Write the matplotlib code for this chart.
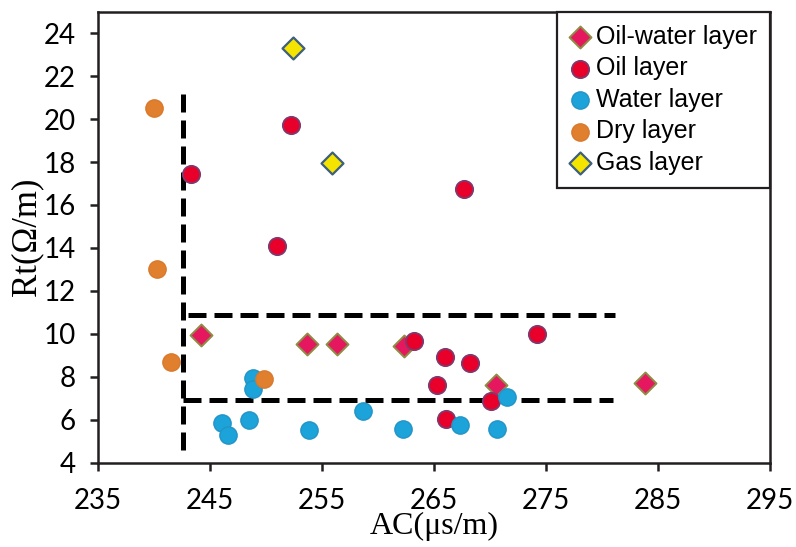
import numpy as np
import matplotlib
matplotlib.use("Agg")
import matplotlib.pyplot as plt

# AC (us/m) vs Rt (ohm/m) per layer type
OW_AC = [244.2, 253.7, 256.3, 262.3, 270.5, 283.8]
OW_RT = [9.93, 9.52, 9.52, 9.42, 7.60, 7.70]
OIL_AC = [243.3, 252.2, 251.0, 267.7, 263.2, 266.0, 268.2, 265.3, 274.2, 270.1, 266.1]
OIL_RT = [17.44, 19.74, 14.08, 16.76, 9.65, 8.91, 8.63, 7.60, 10.00, 6.89, 6.05]
WAT_AC = [248.8, 248.8, 246.1, 246.6, 248.5, 253.8, 258.7, 262.2, 267.3, 270.6, 271.5]
WAT_RT = [7.94, 7.45, 5.85, 5.27, 6.00, 5.54, 6.39, 5.59, 5.74, 5.59, 7.07]
DRY_AC = [240.0, 240.3, 241.5, 249.8]
DRY_RT = [20.50, 13.03, 8.68, 7.90]
GAS_AC = [252.4, 255.9]
GAS_RT = [23.30, 17.94]

# cut-off lines
CUT_AC = 242.6
CUT_AC_RT = (4.6, 21.3)
CUT_RT_HI, CUT_RT_LO = 10.87, 6.90
CUT_HI_AC = (243.0, 281.2)
CUT_LO_AC = (242.6, 281.0)

TICK_FONT = "Lato"
LAB_FONT = "Liberation Serif"

fig = plt.figure(figsize=(7.96, 5.47), dpi=100)
ax = fig.add_axes([0.1231, 0.1541, 0.8442, 0.8245])

dash = dict(color="black", lw=3.6, dashes=(3.6, 1.6), solid_capstyle="butt",
            dash_capstyle="butt", zorder=2)
ax.plot([CUT_AC, CUT_AC], CUT_AC_RT, **dash)
ax.plot(CUT_HI_AC, [CUT_RT_HI, CUT_RT_HI], **dash)
ax.plot(CUT_LO_AC, [CUT_RT_LO, CUT_RT_LO], **dash)

ax.scatter(OW_AC, OW_RT, marker="D", s=125, c="#E5175F", edgecolors="#8E8C45",
           linewidths=1.4, zorder=3, label="Oil-water layer")
ax.scatter(OIL_AC, OIL_RT, marker="o", s=155, c="#E8002B", edgecolors="#7E3A6C",
           linewidths=1.3, zorder=4, label="Oil layer")
ax.scatter(WAT_AC, WAT_RT, marker="o", s=155, c="#1BA3DA", edgecolors="#2394C6",
           linewidths=1.0, zorder=5, label="Water layer")
ax.scatter(DRY_AC, DRY_RT, marker="o", s=155, c="#E0802F", edgecolors="#D9782A",
           linewidths=1.0, zorder=6, label="Dry layer")
ax.scatter(GAS_AC, GAS_RT, marker="D", s=125, c="#F4E400", edgecolors="#3E5F7E",
           linewidths=1.6, zorder=6, label="Gas layer")

ax.set_xlim(235, 295)
ax.set_ylim(4, 25)
ax.set_xticks(np.arange(235, 296, 10))
ax.set_yticks(np.arange(4, 25, 2))
for sp in ax.spines.values():
    sp.set_linewidth(1.8)
    sp.set_color("#231F20")
ax.tick_params(direction="out", length=6, width=1.8, color="#231F20",
               labelsize=20)
ax.tick_params(axis="x", pad=12)
ax.tick_params(axis="y", pad=10)
for lab in ax.get_xticklabels() + ax.get_yticklabels():
    lab.set_family(TICK_FONT)

ax.set_xlabel("AC(μs/m)", family=LAB_FONT, fontsize=23, labelpad=-1)
ax.set_ylabel("Rt(Ω/m)", family=LAB_FONT, fontsize=25, labelpad=0)

leg = ax.legend(loc="upper right", bbox_to_anchor=(1.0, 1.0), borderaxespad=0,
                fancybox=False, edgecolor="#231F20", framealpha=1,
                prop=dict(family="Liberation Sans", size=18),
                labelspacing=0.3, handletextpad=0.25, handlelength=0.8,
                borderpad=0.52, scatterpoints=1)
leg.get_frame().set_linewidth(1.6)

fig.savefig("out.png", dpi=100)
